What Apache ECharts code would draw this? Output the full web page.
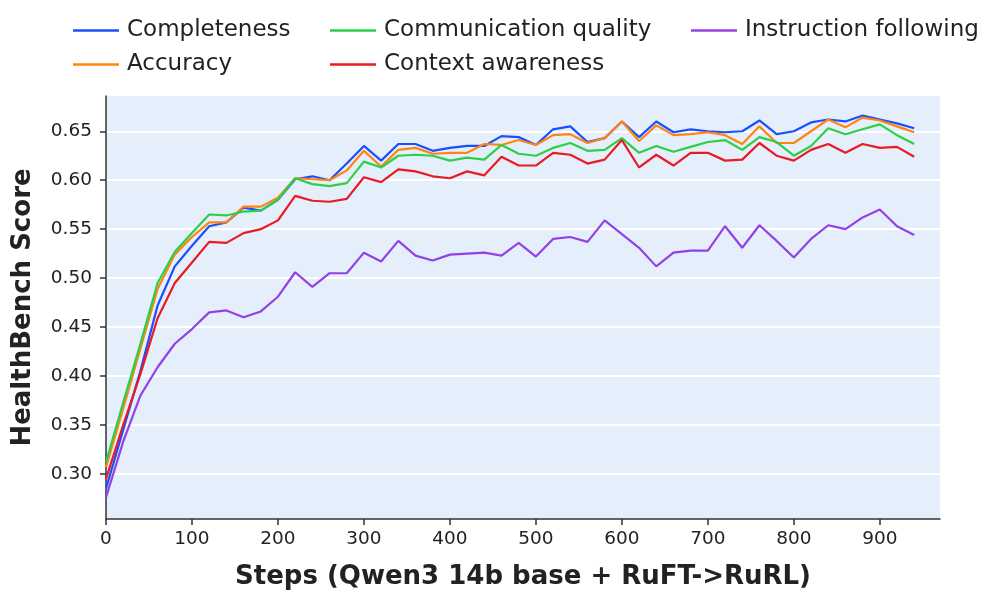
<!DOCTYPE html>
<html>
<head>
<meta charset="utf-8">
<script src="https://cdn.jsdelivr.net/npm/echarts@6.0.0/dist/echarts.min.js"></script>
<style>
html,body{margin:0;padding:0;background:#fff;}
#chart{width:997px;height:601px;}
</style>
</head>
<body>
<div id="chart"></div>
<script>
const steps = [0,20,40,60,80,100,120,140,160,180,200,220,240,260,280,300,320,340,360,380,400,420,440,460,480,500,520,540,560,580,600,620,640,660,680,700,720,740,760,780,800,820,840,860,880,900,920,940];
const completeness = [0.285,0.345,0.405,0.472,0.512,0.533,0.553,0.557,0.572,0.569,0.580,0.601,0.604,0.600,0.617,0.635,0.620,0.637,0.637,0.630,0.633,0.635,0.635,0.645,0.644,0.636,0.652,0.655,0.639,0.643,0.660,0.644,0.660,0.649,0.652,0.650,0.649,0.650,0.661,0.647,0.650,0.659,0.662,0.660,0.666,0.662,0.658,0.653];
const accuracy = [0.307,0.367,0.428,0.489,0.524,0.542,0.557,0.557,0.573,0.573,0.582,0.602,0.601,0.600,0.610,0.630,0.614,0.631,0.633,0.627,0.628,0.628,0.637,0.636,0.641,0.636,0.646,0.647,0.638,0.643,0.660,0.640,0.656,0.646,0.647,0.649,0.646,0.637,0.655,0.638,0.638,0.650,0.662,0.654,0.664,0.661,0.655,0.649];
const communication = [0.312,0.373,0.433,0.495,0.527,0.546,0.565,0.564,0.568,0.569,0.580,0.602,0.596,0.594,0.597,0.619,0.613,0.625,0.626,0.625,0.620,0.623,0.621,0.636,0.627,0.625,0.633,0.638,0.630,0.631,0.643,0.628,0.635,0.629,0.634,0.639,0.641,0.631,0.644,0.639,0.625,0.635,0.653,0.647,0.652,0.657,0.646,0.637];
const context = [0.295,0.350,0.402,0.459,0.495,0.516,0.537,0.536,0.546,0.550,0.559,0.584,0.579,0.578,0.581,0.603,0.598,0.611,0.609,0.604,0.602,0.609,0.605,0.624,0.615,0.615,0.628,0.626,0.617,0.621,0.641,0.613,0.626,0.615,0.628,0.628,0.620,0.621,0.638,0.625,0.620,0.631,0.637,0.628,0.637,0.633,0.634,0.624];
const instruction = [0.276,0.333,0.380,0.409,0.433,0.448,0.465,0.467,0.460,0.466,0.481,0.506,0.491,0.505,0.505,0.526,0.517,0.538,0.523,0.518,0.524,0.525,0.526,0.523,0.536,0.522,0.540,0.542,0.537,0.559,0.545,0.531,0.512,0.526,0.528,0.528,0.553,0.531,0.554,0.538,0.521,0.540,0.554,0.550,0.562,0.570,0.553,0.544];
const seriesNames = ['Completeness','Accuracy','Communication quality','Context awareness','Instruction following'];
const seriesValues = [completeness, accuracy, communication, context, instruction];
const colors = ['#1a4fff','#ff8412','#2ccf48','#ea1a22','#9440e6'];
const xTicks = [0,100,200,300,400,500,600,700,800,900];
const yTicks = [0.30,0.35,0.40,0.45,0.50,0.55,0.60,0.65];

const FONT = 'DejaVu Sans';
const chart = echarts.init(document.getElementById('chart'), null, {renderer:'canvas'});

function legendCol(names, left) {
  return {
    orient: 'vertical', left: left, top: 13,
    data: names, icon: 'rect', itemWidth: 46, itemHeight: 2.5,
    itemGap: 9,
    textStyle: {fontFamily: FONT, fontSize: 23, color: '#222', lineHeight: 25, padding: [0,0,0,3]}
  };
}

const option = {
  animation: false,
  backgroundColor: '#fff',
  color: colors,
  legend: [
    legendCol(['Completeness','Accuracy'], 68),
    legendCol(['Communication quality','Context awareness'], 325),
    legendCol(['Instruction following'], 686)
  ],
  grid: {left: 106, right: 57, top: 96, bottom: 82, show: true, backgroundColor: '#e5effc', borderWidth: 0},
  xAxis: {
    type: 'value', min: 0, max: 970,
    name: 'Steps (Qwen3 14b base + RuFT->RuRL)', nameLocation: 'middle', nameGap: 45,
    nameTextStyle: {fontFamily: FONT, fontSize: 26, fontWeight: 'bold', color: '#222'},
    axisLine: {show: true, lineStyle: {color: '#333', width: 1.5}},
    axisTick: {show: true, length: 6, lineStyle: {color: '#333', width: 1.5}, customValues: xTicks},
    axisLabel: {fontFamily: FONT, fontSize: 18.5, color: '#222', margin: 11, customValues: xTicks},
    splitLine: {show: false}
  },
  yAxis: {
    type: 'value', min: 0.254, max: 0.686,
    name: 'HealthBench Score', nameLocation: 'middle', nameGap: 70,
    nameTextStyle: {fontFamily: FONT, fontSize: 26, fontWeight: 'bold', color: '#222'},
    axisLine: {show: true, lineStyle: {color: '#333', width: 1.5}},
    axisTick: {show: true, length: 6, lineStyle: {color: '#333', width: 1.5}, customValues: yTicks},
    axisLabel: {fontFamily: FONT, fontSize: 18.5, color: '#222', margin: 14, customValues: yTicks,
      formatter: v => v.toFixed(2)},
    splitLine: {show: true, lineStyle: {color: '#ffffff', width: 2}}
  },
  series: seriesNames.map((n, i) => ({
    name: n, type: 'line', showSymbol: false, symbol: 'none',
    data: steps.map((s, j) => [s, seriesValues[i][j]]),
    lineStyle: {width: 2.2, color: colors[i]},
    itemStyle: {color: colors[i]},
    z: 2 + i
  }))
};
chart.setOption(option);
</script>
</body>
</html>
